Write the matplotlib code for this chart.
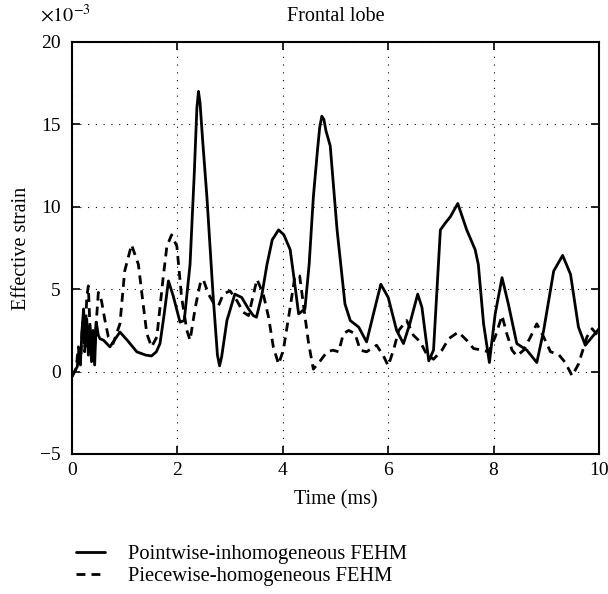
import matplotlib
matplotlib.use("Agg")
import matplotlib.pyplot as plt
import numpy as np

plt.rcParams['font.family'] = ['Liberation Serif', 'DejaVu Serif']
plt.rcParams['mathtext.fontset'] = 'stix'

# effective strain values are in units of 1e-3
t_point = [0.0, 0.05, 0.1, 0.13, 0.16, 0.19, 0.22, 0.25, 0.28, 0.31, 0.34, 0.37,
           0.40, 0.43, 0.46, 0.50, 0.53, 0.60, 0.72, 0.91, 1.05, 1.23, 1.40, 1.51,
           1.60, 1.67, 1.75, 1.83, 1.92, 2.05, 2.13, 2.24, 2.32, 2.37, 2.40, 2.43,
           2.48, 2.56, 2.68, 2.76, 2.80, 2.84, 2.94, 3.09, 3.22, 3.35, 3.44, 3.50,
           3.60, 3.70, 3.80, 3.92, 4.02, 4.14, 4.22, 4.30, 4.42, 4.50, 4.58, 4.66,
           4.70, 4.74, 4.78, 4.82, 4.90, 5.03, 5.18, 5.28, 5.44, 5.59, 5.72, 5.86,
           6.00, 6.16, 6.29, 6.41, 6.56, 6.64, 6.77, 6.86, 6.99, 7.08, 7.18, 7.32,
           7.49, 7.65, 7.71, 7.81, 7.92, 8.03, 8.16, 8.28, 8.44, 8.63, 8.82, 8.95,
           9.14, 9.31, 9.46, 9.61, 9.74, 9.87, 10.0]
s_point = [-0.3, 0.0, 0.3, 1.2, 0.5, 2.5, 3.8, 1.5, 3.2, 1.0, 2.8, 0.6,
           2.5, 0.4, 3.0, 2.2, 2.0, 1.9, 1.5, 2.4, 1.9, 1.2, 1.0, 0.95,
           1.2, 1.7, 3.5, 5.5, 4.6, 3.0, 3.1, 6.5, 12.0, 16.0, 17.0, 16.3,
           14.0, 10.6, 4.5, 1.0, 0.35, 0.9, 3.1, 4.7, 4.5, 3.8, 3.4, 3.3,
           4.6, 6.5, 8.0, 8.6, 8.3, 7.4, 5.5, 3.5, 3.8, 6.5, 10.6, 13.5,
           14.8, 15.5, 15.3, 14.6, 13.7, 8.6, 4.1, 3.1, 2.7, 1.8, 3.5, 5.3,
           4.5, 2.5, 1.7, 2.9, 4.7, 3.9, 0.65, 1.3, 8.6, 9.0, 9.4, 10.2,
           8.6, 7.4, 6.5, 2.9, 0.55, 3.5, 5.7, 4.1, 1.7, 1.3, 0.55, 2.5,
           6.1, 7.05, 5.9, 2.7, 1.6, 2.1, 2.6]

t_piece = [0.0, 0.08, 0.12, 0.16, 0.20, 0.24, 0.28, 0.31, 0.35, 0.41, 0.45, 0.50,
           0.56, 0.62, 0.69, 0.78, 0.91, 1.00, 1.13, 1.26, 1.35, 1.42, 1.51, 1.61,
           1.73, 1.80, 1.89, 1.99, 2.08, 2.18, 2.24, 2.34, 2.43, 2.49, 2.59, 2.68,
           2.78, 2.87, 3.00, 3.13, 3.25, 3.35, 3.51, 3.63, 3.73, 3.82, 3.92, 4.01,
           4.14, 4.23, 4.32, 4.39, 4.49, 4.58, 4.71, 4.84, 4.95, 5.06, 5.15, 5.25,
           5.37, 5.47, 5.59, 5.78, 5.91, 6.00, 6.10, 6.20, 6.35, 6.48, 6.61, 6.73,
           6.86, 7.02, 7.15, 7.33, 7.49, 7.62, 7.78, 7.91, 8.03, 8.16, 8.25, 8.35,
           8.44, 8.57, 8.70, 8.82, 8.95, 9.08, 9.23, 9.36, 9.49, 9.61, 9.77, 9.87,
           10.0]
s_piece = [-0.3, 0.2, 1.5, 0.4, 3.0, 1.2, 4.5, 5.2, 2.0, 0.45, 2.5, 4.8,
           4.3, 3.2, 2.1, 1.7, 2.9, 6.1, 7.7, 6.5, 4.1, 2.3, 1.5, 2.1,
           5.7, 7.6, 8.3, 7.6, 4.5, 2.5, 1.9, 3.9, 5.3, 5.6, 4.7, 4.2,
           4.0, 4.7, 4.9, 4.3, 3.6, 3.4, 5.6, 4.7, 3.3, 1.5, 0.45, 1.3,
           3.9, 5.8, 5.8, 4.1, 1.7, 0.15, 0.65, 1.2, 1.3, 1.2, 2.3, 2.5,
           2.3, 1.3, 1.2, 1.6, 0.95, 0.35, 1.3, 2.5, 3.1, 2.2, 1.8, 1.05,
           0.75, 1.3, 2.0, 2.4, 1.9, 1.4, 1.3, 1.2, 2.1, 3.4, 2.3, 1.3,
           0.95, 1.3, 2.1, 2.9, 2.1, 1.2, 1.05, 0.55, -0.26, 0.45, 2.1, 2.6,
           2.1]

x_ticks = [0, 2, 4, 6, 8, 10]
y_ticks = [-5, 0, 5, 10, 15, 20]
y_tick_labels = ['\u22125', '0', '5', '10', '15', '20']
series_names = ['Pointwise-inhomogeneous FEHM', 'Piecewise-homogeneous FEHM']

fig = plt.figure(figsize=(6.08, 5.94), dpi=100)
ax = fig.add_axes([0.1184, 0.2357, 0.8668, 0.6936])

line1, = ax.plot(t_point, s_point, color='black', lw=2.0,
                 solid_joinstyle='round', solid_capstyle='round')
line2, = ax.plot(t_piece, s_piece, color='black', lw=2.0, ls=(0, (3.2, 2.2)))

ax.set_xlim(0, 10)
ax.set_ylim(-5, 20)
ax.set_xticks(x_ticks)
ax.set_yticks(y_ticks)
ax.set_yticklabels(y_tick_labels)
ax.tick_params(direction='in', top=True, right=True, length=6, width=1.2,
               labelsize=14, pad=6)
ax.tick_params(axis='y', pad=8)
ax.grid(True, ls=(0, (1, 6)), color='black', lw=0.8)
for sp in ax.spines.values():
    sp.set_linewidth(1.5)

ax.set_xlabel('Time (ms)', fontsize=14.5, labelpad=8)
ax.set_ylabel('Effective strain', fontsize=14.5, labelpad=7)
ax.set_title('Frontal lobe', fontsize=14.5, pad=15)
fig.text(0.066, 0.974, r'$\times10^{-3}$', fontsize=14.5, ha='left', va='center')

fig.legend([line1, line2], series_names,
           loc='upper left', bbox_to_anchor=(0.112, 0.097), frameon=False,
           fontsize=14.8, handlelength=1.4, handletextpad=1.1, labelspacing=0.15,
           borderaxespad=0)

fig.savefig('out.png', dpi=100)
